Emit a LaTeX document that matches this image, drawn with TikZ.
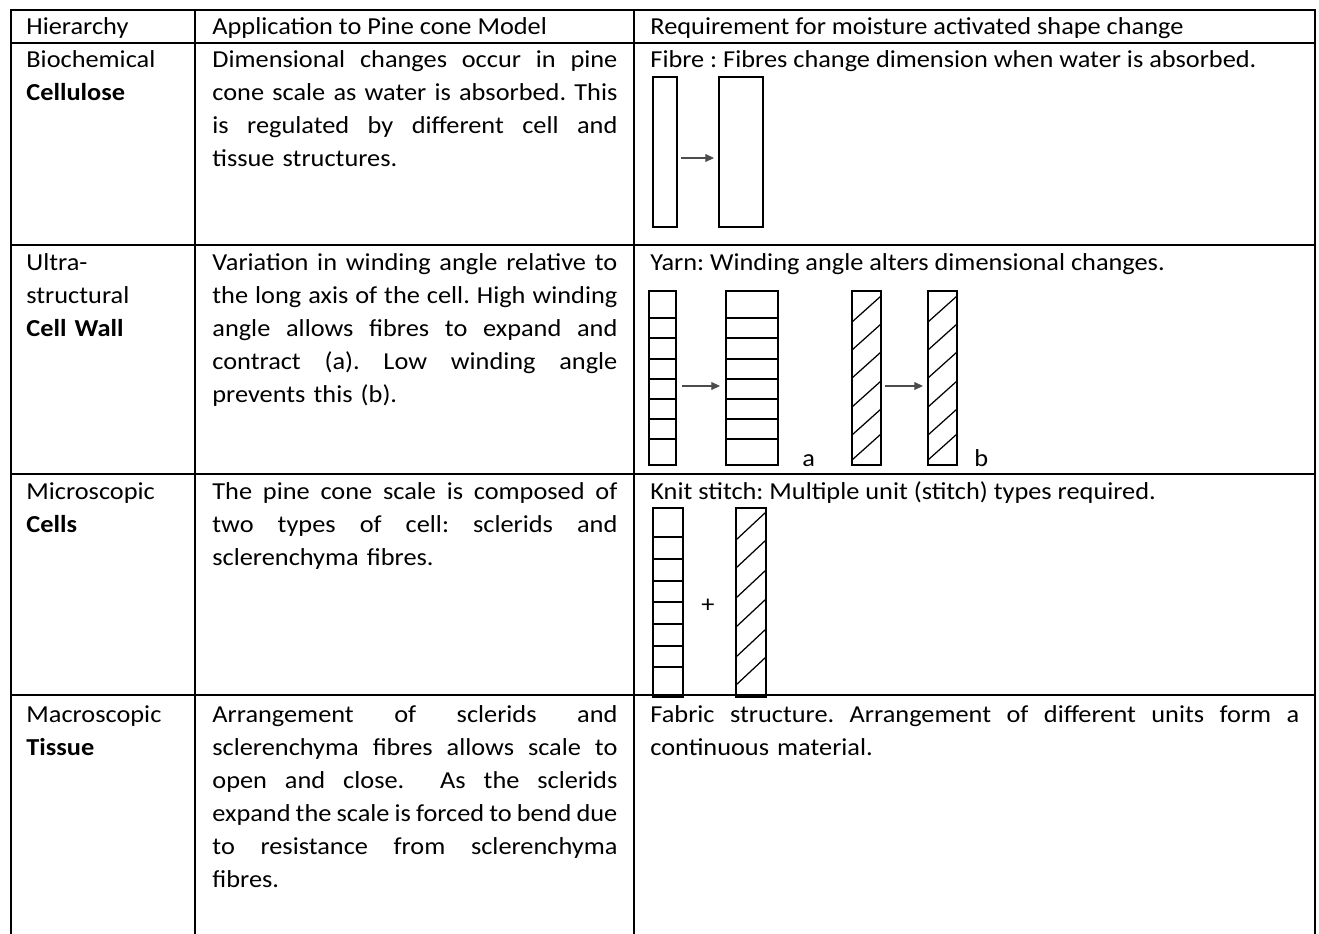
\documentclass[tikz,border=0pt]{standalone}
\usepackage{fontspec}
\setmainfont{Carlito}[FakeStretch=1.08]
\usetikzlibrary{arrows.meta}
\newlength\jwb \setlength\jwb{194.4pt}
\newlength\jwc \setlength\jwc{311.5pt}
\newcommand\jb[1]{\makebox[\jwb][s]{\spaceskip=0pt\xspaceskip=0pt #1}}
\newcommand\jc[1]{\makebox[\jwc][s]{\spaceskip=0pt\xspaceskip=0pt #1}}
\newcommand\txtfont{\fontsize{11.7pt}{15.84pt}\selectfont\frenchspacing}
\tikzset{
  tbl/.style={line width=1pt, line cap=rect},
  shp/.style={line width=0.72pt},
  hatchline/.style={line width=0.6pt},
  arr/.style={-{Triangle[length=4.2pt,width=3.8pt]}, line width=0.5pt, draw=black!70},
  txt/.style={anchor=base west, inner sep=0pt, font=\txtfont},
  colA/.style={txt, text width=80pt},
  colB/.style={txt, text width=196pt},
  colC/.style={txt, text width=314pt},
}
\begin{document}
\begin{tikzpicture}[x=0.48pt, y=-0.48pt]
\useasboundingbox (0,0) rectangle (1319,934);
% ---- table grid
\draw[tbl] (11,934) -- (11,10) -- (1315,10) -- (1315,934);
\draw[tbl] (195,10) -- (195,934);
\draw[tbl] (634,10) -- (634,934);
\foreach \yy in {43,245,474,695} \draw[tbl] (11,\yy) -- (1315,\yy);
% ---- header
\node[txt] (h1) at (26,35) {Hierarchy};
\node[txt] (h2) at (212,35) {Application to Pine cone Model};
\node[txt] (h3) at (650,35) {Requirement for moisture activated shape change};
% ---- column 1
\node[colA] (c1r1) at (26,68) {Biochemical\\\textbf{Cellulose}};
\node[colA] (c1r2) at (26,270) {Ultra-\\structural\\\textbf{Cell Wall}};
\node[colA] (c1r3) at (26,499) {Microscopic\\\textbf{Cells}};
\node[colA] (c1r4) at (26,722) {Macroscopic\\\textbf{Tissue}};
% ---- column 2
\node[colB] (c2r1) at (212,68) {\jb{Dimensional changes occur in pine}\\
\jb{cone scale as water is absorbed. This}\\
\jb{is regulated by different cell and}\\
tissue structures.};
\node[colB] (c2r2) at (212,270) {\jb{Variation in winding angle relative to}\\
\jb{the long axis of the cell. High winding}\\
\jb{angle allows fibres to expand and}\\
\jb{contract (a). Low winding angle}\\
prevents this (b).};
\node[colB] (c2r3) at (212,499) {\jb{The pine cone scale is composed of}\\
\jb{two types of cell: sclerids and}\\
sclerenchyma fibres.};
\node[colB] (c2r4) at (212,722) {\jb{Arrangement of sclerids and}\\
\jb{sclerenchyma fibres allows scale to}\\
\jb{open and close.\ \ As the sclerids}\\
\jb{expand the scale is forced to bend due}\\
\jb{to resistance from sclerenchyma}\\
fibres.};
% ---- column 3 texts
\node[txt] (c3r1) at (650,68) {Fibre : Fibres change dimension when water is absorbed.};
\node[txt] (c3r2) at (650,270) {Yarn: Winding angle alters dimensional changes.};
\node[txt] (c3r3) at (650,499) {Knit stitch: Multiple unit (stitch) types required.};
\node[colC] (c3r4) at (650,722) {\jc{Fabric structure. Arrangement of different units form a}\\
continuous material.};
% ---- fibre diagram
\draw[shp] (653,77) rectangle (677,227);
\draw[shp] (719,77) rectangle (763,227);
\coordinate (fa) at (681,158); \coordinate (fb) at (714,158);
\draw[arr] (fa) -- (fb);
% ---- yarn diagram (a)
\draw[shp] (649,291) rectangle (676,465);
\draw[shp] (726,291) rectangle (778,465);
\foreach \yy in {318,338,359,379,399,419,439} {
  \draw[shp] (649,\yy) -- (676,\yy);
  \draw[shp] (726,\yy) -- (778,\yy);
}
\coordinate (ya) at (682,386); \coordinate (yb) at (720,386);
\draw[arr] (ya) -- (yb);
\node[txt] (la) at (802,466) {a};
% ---- yarn diagram (b)
\draw[shp] (852,291) rectangle (881,465);
\draw[shp] (928,291) rectangle (957,465);
\foreach \yy in {322,350,378,407,435,460} {
  \draw[hatchline] (852,\yy) -- (881,\yy-26);
  \draw[hatchline] (928,\yy) -- (957,\yy-26);
}
\coordinate (yc) at (885,386); \coordinate (yd) at (923,386);
\draw[arr] (yc) -- (yd);
\node[txt] (lb) at (974,466) {b};
% ---- knit stitch diagram
\draw[shp] (653,508) rectangle (683,697);
\foreach \yy in {537,559,581,602,624,646,667} \draw[shp] (653,\yy) -- (683,\yy);
\draw[shp] (736,508) rectangle (766,697);
\foreach \yy in {540,568,598,627,657,685} \draw[hatchline] (736,\yy) -- (766,\yy-28);
\node[txt, anchor=center] (plus) at (708,606) {+};
\end{tikzpicture}
\end{document}
